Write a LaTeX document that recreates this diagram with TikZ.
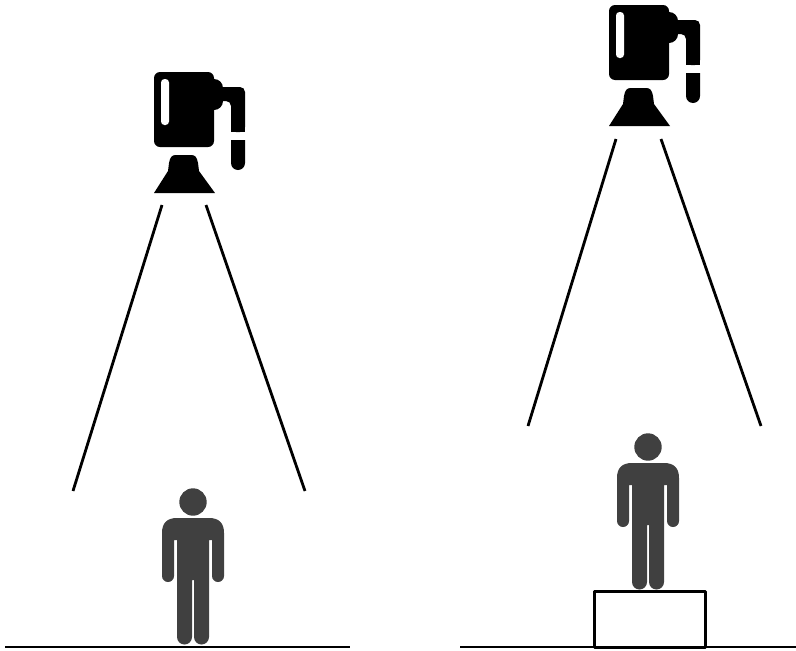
\documentclass[tikz,border=0pt]{standalone}
\tikzset{
  beam/.style={line width=2.8pt,black},
  ground/.style={line width=2pt,black},
  plinth/.style={line width=3pt,black,line join=round},
  camera/.pic={
    \fill[black,rounded corners=6pt] (154,72) -- (214,72) -- (214,147) -- (154,147) -- cycle;
    \fill[black,rounded corners=9pt] (200,79) -- (223,79) -- (223,110) -- (200,110) -- cycle;
    \fill[black,rounded corners=5pt] (210,87) -- (245,87) -- (245,132) -- (231,132) -- (231,101) -- (210,101) -- cycle;
    \fill[black] (231,132) rectangle (245,125);
    \fill[black] (231,140) -- (245,140) -- (245,163) arc[start angle=0,end angle=-180,radius=7pt] -- cycle;
    \fill[white,rounded corners=3.5pt] (161,79) -- (169,79) -- (169,125) -- (161,125) -- cycle;
    \fill[black] (154,193) -- (168,171) -- (169,163) .. controls (170,157) and (172,155) .. (176,155)
       -- (191,155) .. controls (195,155) and (197,157) .. (198,163) -- (199,171) -- (215,193) -- cycle;
  },
  person/.pic={
    \fill[pcolor] (648,447) circle[radius=13.7pt];
    \fill[pcolor] (617,521) -- (617,478) .. controls (617,468) and (622,463) .. (632,463)
      -- (664,463) .. controls (674,463) and (679,468) .. (679,478) -- (679,521)
      arc[start angle=0,end angle=-180,radius=6pt] -- (667,485) -- (664,485)
      -- (664,582) arc[start angle=0,end angle=-180,radius=7.5pt] -- (649,525) -- (647,525)
      -- (647,582) arc[start angle=0,end angle=-180,radius=7.5pt] -- (632,485) -- (629,485)
      -- (629,521) arc[start angle=0,end angle=-180,radius=6pt] -- cycle;
  }
}
\definecolor{pcolor}{HTML}{404040}
\begin{document}
\begin{tikzpicture}[x=1pt,y=-1pt]
\path[use as bounding box,fill=white] (0,0) rectangle (796,651);
% left scene
\pic at (0,0) {camera};
\draw[beam] (162,205) -- (73,491);
\draw[beam] (206,205) -- (305,491);
\pic at (-455,55) {person};
\draw[ground] (5,647) -- (350,647);
% right scene
\pic at (455,-67) {camera};
\draw[beam] (616,139) -- (528,426);
\draw[beam] (661,139) -- (761,426);
\pic at (0,0) {person};
\draw[ground] (460,647) -- (796,647);
\draw[plinth] (594.5,591.5) rectangle (705.5,647.5);
\end{tikzpicture}
\end{document}
